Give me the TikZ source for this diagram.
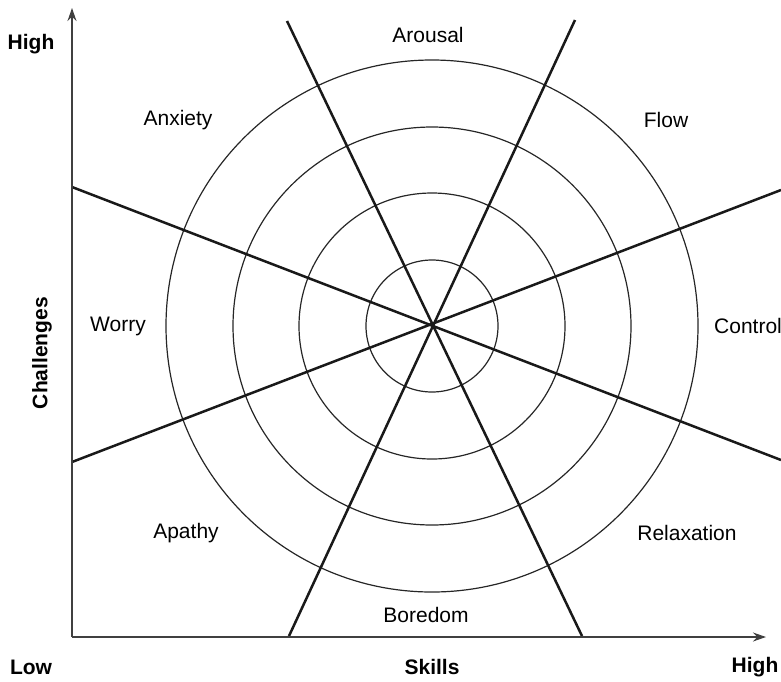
\documentclass[tikz,border=0pt]{standalone}
\usepackage{fontspec}
\setmainfont{Liberation Sans}
\usetikzlibrary{arrows.meta}
\begin{document}
\begin{tikzpicture}[x=1pt,y=-1pt,
  ring/.style={line width=1.2pt, draw=black!85},
  spoke/.style={line width=2.5pt, draw=black!90},
  axis/.style={line width=1.3pt, draw=black!75, -{Stealth[length=13pt,width=9pt]}},
  lab/.style={font=\fontsize{21}{23}\selectfont, inner sep=0pt},
  blab/.style={font=\fontsize{21}{23}\selectfont\bfseries, inner sep=0pt}]
\useasboundingbox (0,0) rectangle (781,681);
\coordinate (c) at (432,326);
\foreach \r in {66,133,199,266}
  \draw[ring] (c) circle[radius=\r pt];
\draw[spoke] (287,21) -- (582,636);
\draw[spoke] (575,20) -- (289,636);
\draw[spoke] (72,187) -- (781,460);
\draw[spoke] (72,462) -- (781,190);
\coordinate (o) at (72,637);
\coordinate (ytip) at (72,8);
\coordinate (xtip) at (766,637);
\draw[axis] (o) -- (ytip);
\draw[axis] (o) -- (xtip);
\node[lab] (arousal) at (428,35) {Arousal};
\node[lab] (anxiety) at (178,120) {Anxiety};
\node[lab] (flow) at (666,120) {Flow};
\node[lab] (worry) at (118,326) {Worry};
\node[lab,anchor=west] (control) at (714,326) {Control};
\node[lab] (apathy) at (186,533) {Apathy};
\node[lab] (relax) at (687,533) {Relaxation};
\node[lab] (boredom) at (426,615) {Boredom};
\node[blab] (hightop) at (31,44) {High};
\node[blab] (low) at (31,667) {Low};
\node[blab] (skills) at (432,667) {Skills};
\node[blab] (highright) at (755,667) {High};
\node[blab,rotate=90] (chal) at (42,353) {Challenges};
\end{tikzpicture}
\end{document}
